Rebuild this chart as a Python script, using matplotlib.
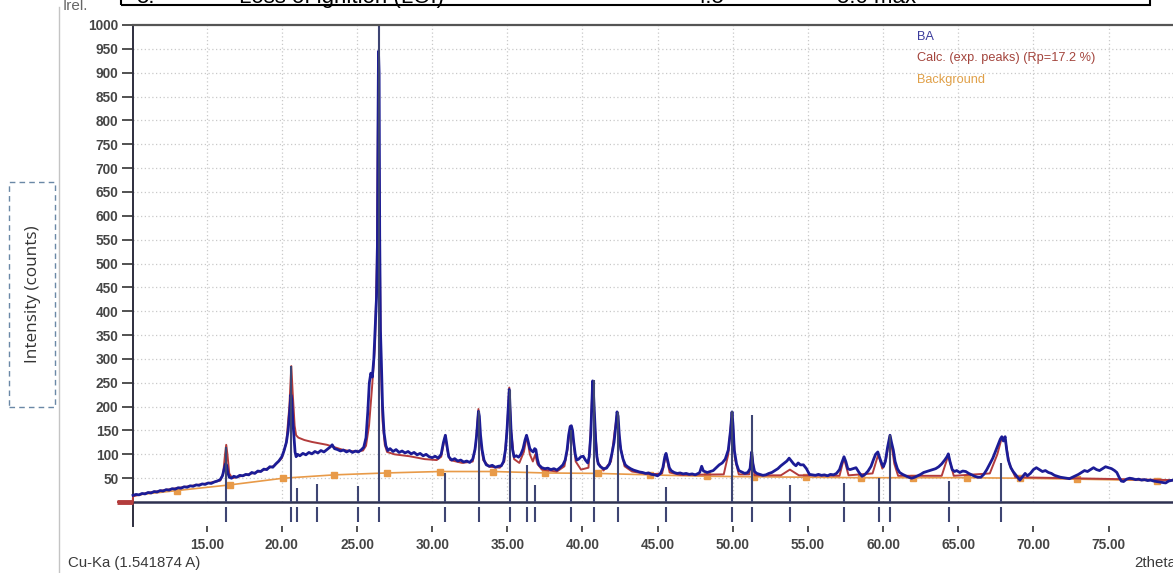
import matplotlib
matplotlib.use("Agg")
import matplotlib.pyplot as plt
from matplotlib.patches import Rectangle
from matplotlib.lines import Line2D

W, H = 1173, 573

# ---------------- data ----------------
obs_x = [10.10, 10.3, 10.5, 10.7, 10.9, 11.1, 11.3, 11.5, 11.7, 11.9, 12.1, 12.3, 12.5, 12.7, 12.9,
         13.1, 13.3, 13.5, 13.7, 13.9, 14.1, 14.3, 14.5, 14.7, 14.9, 15.1, 15.3, 15.5, 15.7, 15.9,
         16.05, 16.15, 16.25, 16.32, 16.40, 16.50, 16.65, 16.8, 17.0, 17.2, 17.4, 17.6, 17.8, 18.0,
         18.2, 18.4, 18.6, 18.8, 19.0, 19.2, 19.4, 19.6, 19.8, 20.0, 20.15, 20.3, 20.42, 20.52, 20.60,
         20.66, 20.72, 20.80, 20.88, 20.95, 21.05, 21.2, 21.4, 21.6, 21.8, 22.0, 22.2, 22.4, 22.6,
         22.8, 23.0, 23.2, 23.35, 23.5, 23.7, 23.9, 24.1, 24.3, 24.5, 24.7, 24.9, 25.1, 25.3, 25.45,
         25.6, 25.72, 25.82, 25.92, 26.02, 26.12, 26.22, 26.30, 26.36, 26.40, 26.43, 26.47, 26.51,
         26.56, 26.62, 26.70, 26.80, 26.92, 27.05, 27.2, 27.4, 27.6, 27.8, 28.0, 28.2, 28.4, 28.6,
         28.8, 29.0, 29.2, 29.4, 29.6, 29.8, 30.0, 30.2, 30.4, 30.6, 30.75, 30.88, 30.98, 31.1, 31.3,
         31.5, 31.7, 31.9, 32.1, 32.3, 32.5, 32.7, 32.85, 32.96, 33.08, 33.14, 33.22, 33.32, 33.45,
         33.6, 33.8, 34.0, 34.2, 34.4, 34.6, 34.75, 34.88, 34.98, 35.08, 35.13, 35.18, 35.25, 35.35,
         35.45, 35.6, 35.75, 35.9, 36.05, 36.18, 36.28, 36.38, 36.5, 36.6, 36.72, 36.82, 36.9, 37.0,
         37.1, 37.3, 37.5, 37.7, 37.9, 38.1, 38.3, 38.5, 38.7, 38.85, 38.98, 39.08, 39.18, 39.26,
         39.34, 39.42, 39.52, 39.62, 39.75, 39.9, 40.05, 40.2, 40.35, 40.45, 40.55, 40.62, 40.68,
         40.73, 40.80, 40.88, 40.96, 41.05, 41.2, 41.4, 41.6, 41.8, 41.95, 42.1, 42.22, 42.30, 42.37,
         42.45, 42.55, 42.7, 42.85, 43.0, 43.2, 43.4, 43.6, 43.8, 44.0, 44.2, 44.4, 44.6, 44.8, 45.0,
         45.2, 45.35, 45.48, 45.56, 45.65, 45.78, 45.9, 46.1, 46.3, 46.5, 46.7, 46.9, 47.1, 47.3,
         47.5, 47.7, 47.8, 47.93, 48.05, 48.3, 48.5, 48.7, 48.9, 49.1, 49.3, 49.5, 49.7, 49.85, 49.95,
         50.02, 50.1, 50.25, 50.4, 50.6, 50.8, 51.0, 51.15, 51.26, 51.34, 51.45, 51.6, 51.8, 52.0,
         52.2, 52.4, 52.6, 52.8, 53.0, 53.2, 53.4, 53.6, 53.75, 53.9, 54.05, 54.2, 54.35, 54.5, 54.7,
         54.9, 55.1, 55.3, 55.5, 55.7, 55.9, 56.1, 56.3, 56.5, 56.7, 56.9, 57.1, 57.25, 57.4, 57.52,
         57.65, 57.8, 58.0, 58.2, 58.4, 58.6, 58.8, 59.0, 59.2, 59.35, 59.5, 59.65, 59.78, 59.92,
         60.02, 60.15, 60.3, 60.46, 60.56, 60.68, 60.8, 60.95, 61.1, 61.3, 61.5, 61.7, 61.9, 62.1,
         62.3, 62.5, 62.7, 62.9, 63.1, 63.3, 63.5, 63.7, 63.9, 64.1, 64.25, 64.34, 64.45, 64.6, 64.75,
         64.9, 65.1, 65.3, 65.5, 65.7, 65.9, 66.1, 66.3, 66.5, 66.7, 66.9, 67.1, 67.3, 67.5, 67.65,
         67.8, 67.9, 68.0, 68.12, 68.22, 68.33, 68.5, 68.65, 68.8, 69.0, 69.1, 69.25, 69.45, 69.6,
         69.8, 70.0, 70.2, 70.4, 70.6, 70.8, 71.0, 71.2, 71.4, 71.6, 71.8, 72.0, 72.2, 72.4, 72.6,
         72.8, 73.0, 73.2, 73.4, 73.6, 73.8, 74.0, 74.2, 74.4, 74.6, 74.8, 75.0, 75.2, 75.4, 75.55,
         75.7, 75.85, 76.0, 76.2, 76.4, 76.6, 76.8, 77.0, 77.2, 77.4, 77.6, 77.8, 78.0, 78.2, 78.4,
         78.6, 78.8, 79.0, 79.3]
obs_y = [14, 16, 15, 18, 17, 20, 19, 22, 21, 24, 23, 26, 25, 28, 27,
         30, 29, 32, 31, 34, 33, 36, 35, 38, 37, 40, 39, 42, 44, 47,
         55, 68, 80, 78, 62, 52, 50, 54, 52, 56, 55, 58, 57, 62,
         60, 65, 64, 69, 68, 74, 73, 80, 86, 95, 108, 125, 150, 190, 225,
         215, 175, 140, 105, 95, 100, 97, 102, 99, 104, 101, 106, 103, 108,
         105, 110, 115, 120, 112, 110, 107, 109, 105, 108, 104, 107, 105, 110, 115,
         135, 190, 250, 270, 262, 300, 375, 430, 540, 800, 945, 900, 560,
         360, 295, 200, 145, 118, 108, 112, 106, 110, 104, 107, 103, 106, 101,
         104, 99, 102, 97, 100, 95, 93, 96, 92, 100, 125, 140, 120, 95, 88,
         91, 86, 88, 84, 86, 83, 90, 110, 140, 190, 180, 140, 110, 88,
         78, 75, 77, 73, 75, 76, 85, 110, 150, 210, 236, 200, 150, 110,
         95, 97, 94, 100, 112, 130, 140, 128, 112, 108, 105, 112, 110, 90,
         78, 72, 70, 71, 68, 70, 67, 72, 78, 88, 110, 140, 158, 160,
         150, 125, 100, 88, 90, 95, 96, 88, 82, 95, 140, 200, 254,
         230, 185, 130, 95, 80, 74, 70, 71, 80, 100, 125, 160, 189, 180,
         140, 110, 90, 78, 74, 70, 67, 65, 63, 62, 60, 61, 58, 57, 55,
         60, 72, 95, 102, 90, 72, 66, 62, 60, 61, 59, 60, 58, 59,
         57, 60, 62, 75, 65, 62, 64, 66, 72, 78, 82, 90, 109, 150, 189,
         160, 109, 80, 66, 63, 60, 62, 70, 105, 80, 64, 60, 58, 56,
         57, 60, 62, 66, 70, 76, 81, 86, 92, 86, 80, 76, 82, 78, 78,
         70, 58, 57, 56, 58, 56, 57, 55, 58, 57, 60, 68, 82, 95, 85,
         70, 68, 70, 72, 62, 54, 58, 65, 75, 88, 100, 105, 92, 80,
         74, 85, 115, 140, 125, 109, 85, 70, 62, 58, 55, 52, 50, 52,
         55, 58, 62, 64, 66, 68, 70, 74, 80, 88, 95, 101, 85, 68, 64,
         66, 62, 65, 64, 60, 57, 54, 52, 52, 58, 68, 80, 92, 108, 120,
         132, 137, 128, 137, 110, 88, 72, 64, 58, 50, 46, 52, 60, 55,
         60, 68, 72, 68, 64, 66, 62, 60, 56, 54, 52, 51, 50, 49, 52,
         55, 58, 62, 66, 64, 68, 72, 68, 66, 70, 74, 72, 70, 66, 62,
         52, 44, 43, 48, 50, 49, 47, 48, 46, 47, 45, 46, 44, 43, 42,
         41, 40, 44, 46]

calc_x = [9.0, 10.08, 10.1, 11.0, 12.0, 13.0, 14.0, 15.0, 15.9, 16.1, 16.22, 16.3, 16.38, 16.5, 16.7,
          17.5, 18.5, 19.5, 20.0, 20.3, 20.5, 20.63, 20.72, 20.85, 20.95, 21.1, 21.5, 22.0, 22.5,
          23.0, 23.5, 24.0, 24.5, 25.0, 25.4, 25.6, 25.8, 26.0, 26.2, 26.32, 26.42, 26.5, 26.58,
          26.7, 26.85, 27.0, 27.5, 28.5, 29.5, 30.3, 30.6, 30.75, 30.88, 31.0, 31.2, 32.0, 32.7,
          32.9, 33.08, 33.2, 33.4, 33.8, 34.5, 34.8, 35.0, 35.13, 35.25, 35.45, 35.8, 36.1, 36.3,
          36.5, 36.7, 36.86, 37.0, 37.3, 38.3, 38.8, 39.0, 39.2, 39.35, 39.55, 39.9, 40.4, 40.55,
          40.68, 40.8, 41.0, 41.4, 41.9, 42.15, 42.32, 42.5, 42.8, 43.3, 44.5, 45.3, 45.56, 45.8,
          46.5, 49.4, 49.7, 49.95, 50.15, 50.4, 51.1, 51.26, 51.45, 53.2, 53.8, 54.4, 57.1, 57.4,
          57.7, 59.3, 59.68, 59.95, 60.2, 60.46, 60.75, 61.0, 63.9, 64.34, 64.7, 67.1, 67.6, 67.9,
          68.1, 68.4, 68.8, 79.3]
calc_y = [0, 0, 12, 19, 24, 29, 34, 39, 45, 60, 100, 120, 100, 60, 50,
          56, 64, 76, 92, 125, 200, 285, 230, 160, 140, 135, 130, 126, 123,
          120, 115, 110, 107, 106, 108, 118, 160, 240, 330, 500, 900, 600, 300,
          170, 120, 105, 100, 96, 90, 88, 95, 120, 140, 110, 88, 82, 85,
          120, 195, 130, 88, 74, 72, 85, 160, 240, 150, 90, 82, 105, 138,
          100, 85, 100, 80, 68, 64, 75, 110, 160, 140, 85, 68, 72, 150,
          254, 170, 85, 66, 85, 150, 189, 120, 75, 64, 58, 60, 100, 62,
          57, 58, 100, 189, 90, 58, 58, 105, 56, 56, 68, 56, 55, 92,
          56, 60, 100, 70, 90, 140, 80, 55, 55, 98, 55, 60, 100, 135,
          135, 80, 52, 46]

bg_x = [10.1, 13.0, 16.55, 20.1, 23.5, 26.97, 30.5, 34.07, 37.5, 41.05, 44.5, 48.3, 51.4,
        54.9, 58.5, 62.0, 65.6, 69.1, 72.9, 78.2, 79.3]
bg_y = [14, 24, 36, 50, 57, 61, 64, 64, 61, 60, 57, 54, 53,
        52, 51, 51, 51, 50, 48, 45, 45]

stick_pos = [16.30, 20.63, 21.01, 22.36, 25.05, 26.44, 30.88, 33.10, 35.16, 36.31, 36.86,
             39.26, 40.75, 42.37, 45.58, 49.95, 51.29, 53.81, 57.42, 59.73, 60.44, 64.37, 67.85]
stick_h = [115, 285, 30, 38, 34, 1000, 60, 190, 235, 78, 36,
           150, 256, 189, 32, 191, 182, 36, 39, 51, 140, 45, 81]

x_ticks = [15, 20, 25, 30, 35, 40, 45, 50, 55, 60, 65, 70, 75]
x_tick_labels = ["15.00", "20.00", "25.00", "30.00", "35.00", "40.00", "45.00",
                 "50.00", "55.00", "60.00", "65.00", "70.00", "75.00"]
y_ticks = list(range(50, 1001, 50))

legend_labels = ["BA", "Calc. (exp. peaks) (Rp=17.2 %)", "Background"]

# ---------------- figure ----------------
plt.rcParams['font.family'] = ['Liberation Sans', 'DejaVu Sans']
fig = plt.figure(figsize=(W / 100, H / 100), dpi=100)

def fx(px):
    return px / W

def fy(py):
    return 1 - py / H

ax_left_px, ax_right_px = 116.5, 1183.7
ax_top_px, ax_bot_px = 25.0, 525.9
ax = fig.add_axes([fx(ax_left_px), fy(ax_bot_px), (ax_right_px - ax_left_px) / W,
                   (ax_bot_px - ax_top_px) / H])
ax.set_xlim(9.0, 80.0)
ax.set_ylim(-50, 1000)
ax.patch.set_alpha(0)

C_OBS = '#1c1c96'
C_CALC = '#b33c3c'
C_BG = '#e89a48'
C_STICK = '#3e4573'
GRID = '#c9c9c9'

# grid
for gx in x_ticks:
    ax.plot([gx, gx], [0, 1000], color=GRID, lw=0.9, ls=(0, (1, 2)), zorder=0)
for gy in range(50, 1000, 50):
    ax.plot([10.1, 80], [gy, gy], color=GRID, lw=0.9, ls=(0, (1, 2)), zorder=0)

# spines
for s in ['top', 'right', 'bottom']:
    ax.spines[s].set_visible(False)
ax.spines['left'].set_position(('data', 10.1))
ax.spines['left'].set_bounds(-50, 1000)
ax.spines['left'].set_color('#2e2e3e')
ax.spines['left'].set_linewidth(1.4)

ax.plot([10.1, 80], [1000, 1000], color='#555555', lw=1.6, zorder=6, clip_on=False)
ax.plot([10.1, 80], [0, 0], color='#2e3150', lw=1.8, zorder=1)

# series
ax.plot(bg_x, bg_y, color=C_BG, lw=1.2, zorder=2)
ax.plot(bg_x[1:-1], bg_y[1:-1], ls='none', marker='s', ms=4, color=C_BG, zorder=2)
ax.plot(calc_x, calc_y, color=C_CALC, lw=1.4, zorder=3)
ax.plot(calc_x[:2], calc_y[:2], color=C_CALC, lw=3.5, zorder=3, solid_capstyle='butt')
ax.plot(obs_x, obs_y, color=C_OBS, lw=2.0, zorder=4)
ax.vlines(stick_pos, 0, stick_h, color=C_STICK, lw=1.5, zorder=5)
ax.vlines(stick_pos, -41, -10, color=C_STICK, lw=1.5, zorder=5, clip_on=False)

# ticks
ax.set_xticks(x_ticks)
ax.set_xticklabels(x_tick_labels)
ax.set_yticks(y_ticks)
ax.set_yticklabels([str(v) for v in y_ticks])
ax.tick_params(axis='x', direction='out', length=4.5, width=1.2, color='#333333',
               labelsize=9.8, labelcolor='#454545', pad=4)
ax.tick_params(axis='y', direction='out', length=8, width=1.2, color='#333333',
               labelsize=9.8, labelcolor='#454545', pad=2.5)
for lab in ax.get_xticklabels() + ax.get_yticklabels():
    lab.set_fontweight('bold')

# legend texts
ly = [37, 58, 80]
lc = ['#3c3c9c', '#a3443c', '#e0a048']
for lab, yy, cc in zip(legend_labels, ly, lc):
    fig.text(fx(917), fy(yy), lab, color=cc, fontsize=9.2, va='center', ha='left')

# bottom texts
fig.text(fx(68), fy(563), "Cu-Ka (1.541874 A)", fontsize=10.8, color='#3a3a3a', va='center', ha='left')
fig.text(fx(1134), fy(563), "2theta", fontsize=10.8, color='#3a3a3a', va='center', ha='left')
fig.text(fx(63), fy(9.5), "Irel.", fontsize=11, color='#666666', va='baseline', ha='left')

# left light border line
fig.add_artist(Line2D([fx(59), fx(59)], [fy(7), fy(573)], color='#c4c4c4', lw=1.0))

# y-label with dashed box
fig.add_artist(Rectangle((fx(9), fy(407)), (55 - 9) / W, (407 - 182) / H, fill=False,
                         edgecolor='#6a88a6', lw=1.0, ls=(0, (4, 3))))
fig.text(fx(33), fy(294), "Intensity (counts)", rotation=90, fontsize=12.3,
         family=['Open Sans', 'DejaVu Sans'], color='#333333', ha='center', va='center')

# table fragment at the top (cut off)
fig.add_artist(Rectangle((fx(121), fy(5)), (1150 - 121) / W, 20 / H, fill=False,
                         edgecolor='black', lw=1.5))
for txt, px in [("5.", 136), ("Loss of ignition (LOI)", 239), ("4.5", 693), ("5.0 max", 837)]:
    fig.text(fx(px), fy(3), txt, fontsize=16, color='black', va='baseline', ha='left')

fig.savefig("out.png", dpi=100)
